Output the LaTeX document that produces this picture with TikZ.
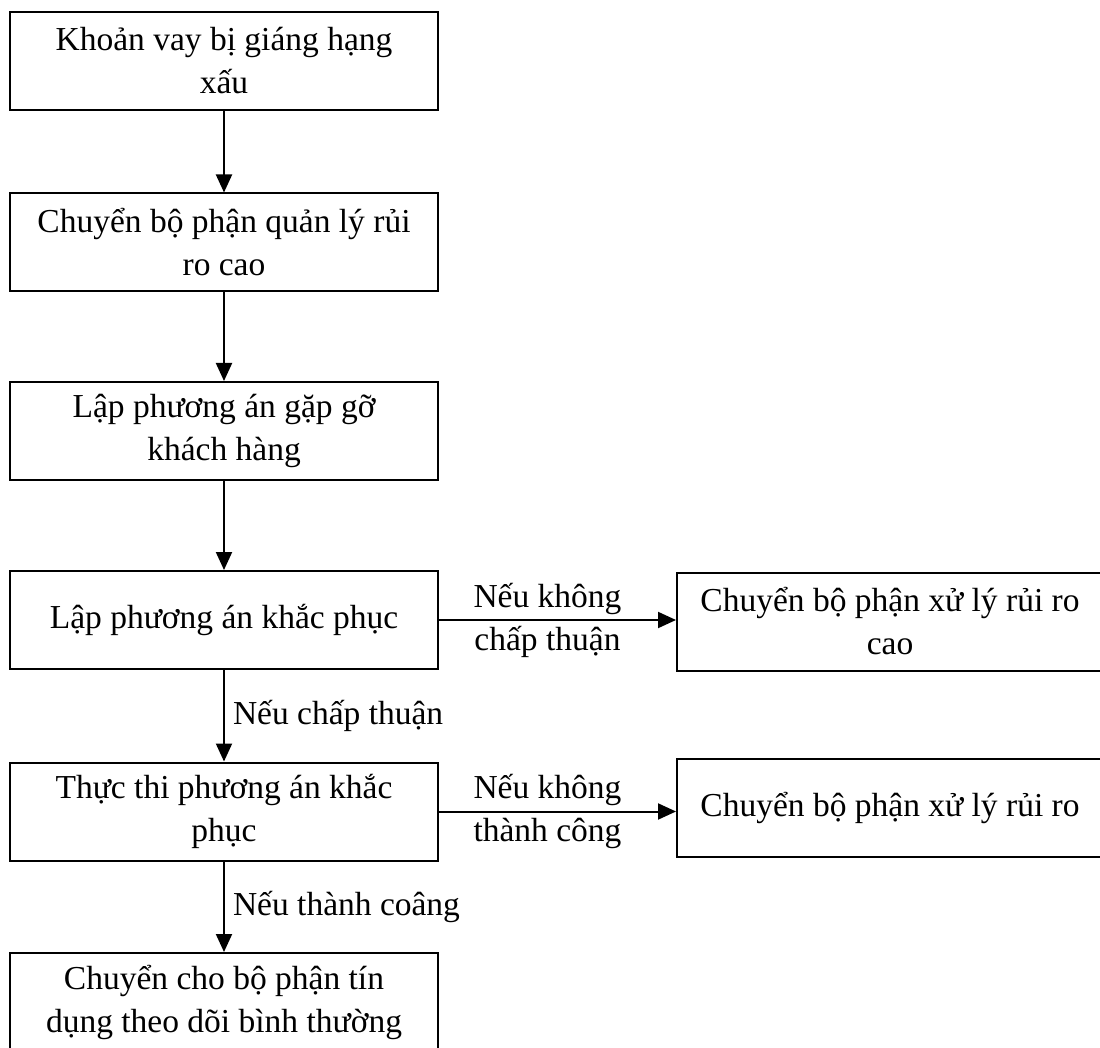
\documentclass[tikz,border=0pt]{standalone}
\usepackage{fontspec}
\setmainfont{Liberation Serif}
\usetikzlibrary{arrows.meta}
\begin{document}
\begin{tikzpicture}[x=1pt,y=1pt,
  box/.style={draw, line width=2pt, minimum width=428pt, minimum height=98pt,
    align=center, inner sep=0pt, font=\fontsize{33.5}{43}\selectfont},
  rbox/.style={box, minimum width=426pt},
  conn/.style={line width=2pt, -{Triangle[length=18pt,width=16pt]}},
  lbl/.style={inner sep=0pt, align=center, font=\fontsize{33.5}{43}\selectfont}]
\path[use as bounding box] (0,0) rectangle (1100,-1048);
\node[box] (b1) at (224,-61) {Khoản vay bị giáng hạng\\xấu};
\node[box] (b2) at (224,-242.5) {Chuyển bộ phận quản lý rủi\\ro cao};
\node[box] (b3) at (224,-431) {Lập phương án gặp gỡ\\khách hàng};
\node[box] (b4) at (224,-620) {Lập phương án khắc phục};
\node[box] (b5) at (224,-811.5) {Thực thi phương án khắc\\phục};
\node[box] (b6) at (224,-1002) {Chuyển cho bộ phận tín\\dụng theo dõi bình thường};
\node[rbox] (r1) at (890,-621.5) {Chuyển bộ phận xử lý rủi ro\\cao};
\node[rbox] (r2) at (890,-807.5) {Chuyển bộ phận xử lý rủi ro};
\draw[conn] (b1) -- (b2);
\draw[conn] (b2) -- (b3);
\draw[conn] (b3) -- (b4);
\draw[conn] (b4) -- node[lbl, anchor=west, xshift=8pt] (l1) {Nếu chấp thuận} (b5);
\draw[conn] (b5) -- node[lbl, anchor=west, xshift=8pt] (l2) {Nếu thành coâng} (b6);
\draw[conn] (b4.east) -- node[lbl, xshift=-10pt] (l3) {Nếu không\\chấp thuận} (b4.east -| r1.west);
\draw[conn] (b5.east) -- node[lbl, xshift=-10pt] (l4) {Nếu không\\thành công} (b5.east -| r2.west);
\end{tikzpicture}
\end{document}
